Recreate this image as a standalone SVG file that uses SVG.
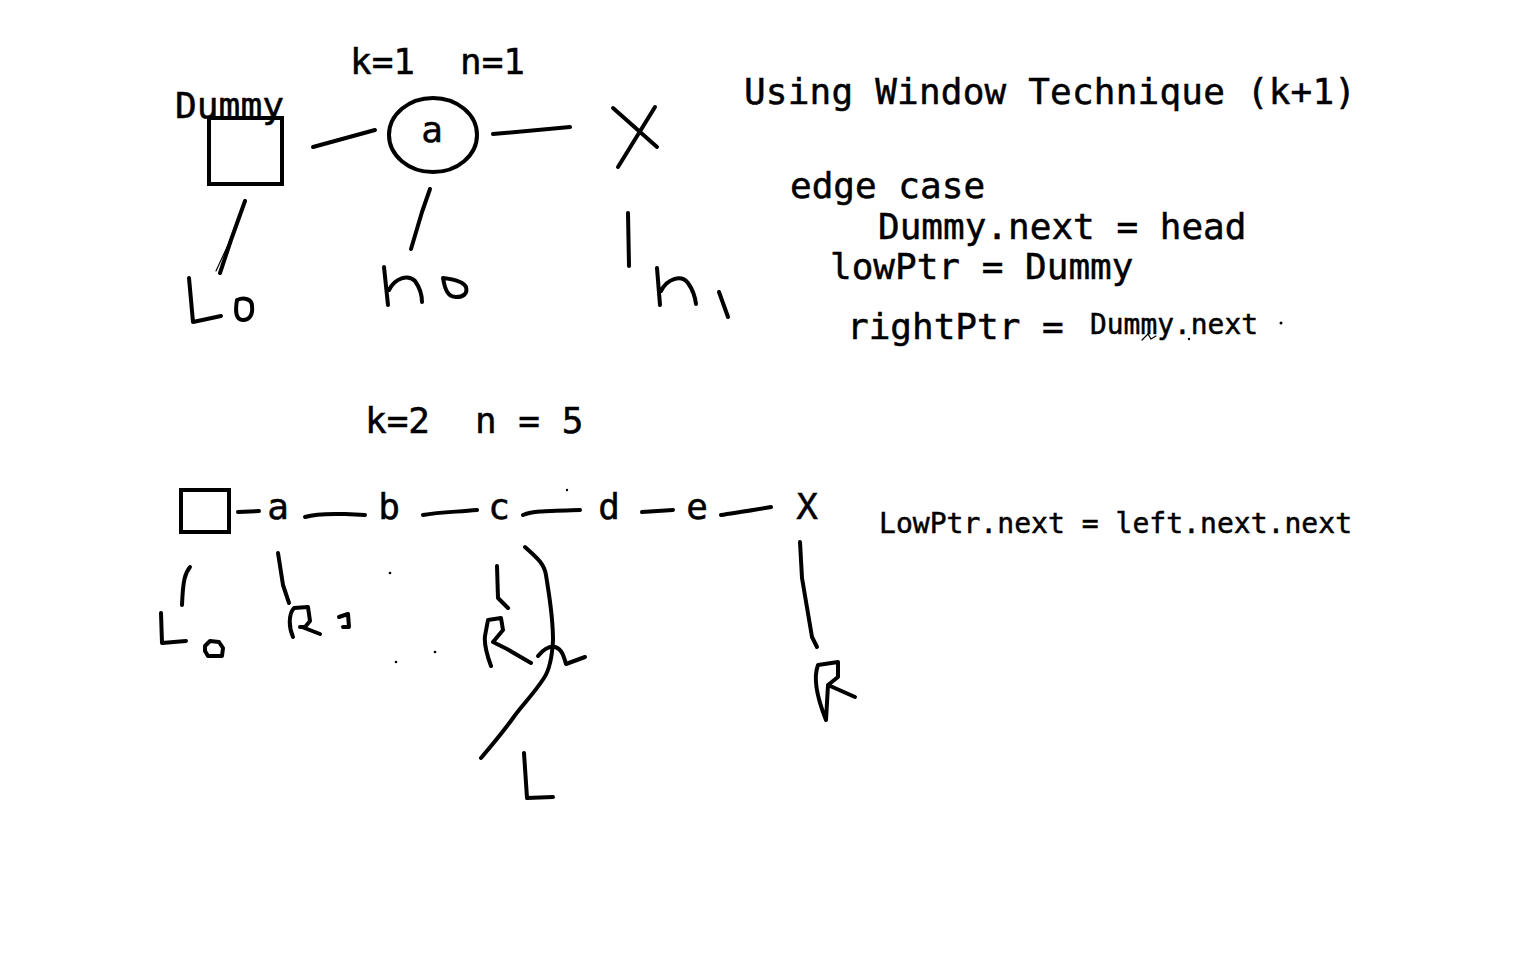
<svg xmlns="http://www.w3.org/2000/svg" width="1536" height="960" viewBox="0 0 1536 960">
<style>
text{stroke:#000;stroke-width:0.5}
.ink{fill:none;stroke:#000;stroke-width:4;stroke-linecap:round;stroke-linejoin:round}
.thin{fill:none;stroke:#000;stroke-width:1.2;stroke-linecap:round}
.mono{font-family:"DejaVu Sans Mono","Liberation Mono",monospace;fill:#000}
.lbl{font-family:"DejaVu Sans Mono","Liberation Mono",monospace;fill:#000;font-size:36px}
.node{font-family:"DejaVu Sans Mono","Liberation Mono",monospace;fill:#000;font-size:36px;text-anchor:middle}
</style>
<rect width="1536" height="960" fill="#fff"/>

<!-- Top example -->
<g id="top-labels">
<text class="lbl" x="350" y="74">k=1</text>
<text class="lbl" x="460" y="74">n=1</text>
</g>
<g id="dummy-node">
<text class="lbl" x="175" y="118" textLength="109" lengthAdjust="spacingAndGlyphs">Dummy</text>
<rect x="209" y="118" width="73" height="66" fill="none" stroke="#000" stroke-width="4"/>
</g>
<g id="node-a">
<ellipse cx="433" cy="135" rx="44" ry="37" fill="none" stroke="#000" stroke-width="4"/>
<text class="node" x="432" y="142" font-size="32">a</text>
</g>
<g id="null-x">
<path class="ink" d="M613,108 L657,147 M655,107 L618,167"/>
</g>
<g id="top-connectors">
<path class="ink" d="M313,147 L375,130"/>
<path class="ink" d="M493,134 L570,127"/>
</g>
<g id="top-pointers">
<path class="ink" d="M245,201 L231,240 L220,273"/>
<path class="thin" d="M240,215 L228,245 L216,271"/>
<path class="ink" d="M189,278 L193,322 L221,316"/>
<path class="ink" d="M237,300 C244,297 252,299 252,306 C253,314 250,320 243,320 C236,320 235,312 237,300 Z"/>
<path class="ink" d="M430,189 L422,212 L411,249"/>
<path class="ink" d="M384,267 L388,305 M389,290 C395,278 408,274 415,281 C420,288 422,294 422,302"/>
<path class="ink" d="M443,278 C452,279 463,281 466,287 C468,294 463,297 456,297 C448,297 445,290 443,278 Z"/>
<path class="ink" d="M628,213 L629,266"/>
<path class="ink" d="M657,268 L660,305 M661,291 C667,279 681,274 688,283 C693,290 695,296 696,304"/>
<path class="ink" d="M719,292 L728,317"/>
</g>

<!-- Notes -->
<g id="notes">
<text class="mono" x="744" y="104" font-size="36" textLength="612" lengthAdjust="spacing">Using Window Technique (k+1)</text>
<text class="mono" x="790" y="198" font-size="36">edge case</text>
<text class="mono" x="878" y="239" font-size="36">Dummy.next = head</text>
<text class="mono" x="830" y="279" font-size="36">lowPtr = Dummy</text>
<text class="mono" x="847" y="339" font-size="36">rightPtr =</text>
<text class="mono" x="1090" y="334" font-size="28" textLength="168" lengthAdjust="spacingAndGlyphs">Dummy.next</text>
<circle cx="1281" cy="323" r="1.5" fill="#000"/>
<path class="thin" d="M1142,340 L1148,334 L1151,339 L1156,336" stroke-width="2"/>
<circle cx="1189" cy="339" r="1.2" fill="#000"/>
<text class="mono" x="879" y="533" font-size="28" textLength="473" lengthAdjust="spacing">LowPtr.next = left.next.next</text>
</g>

<!-- Bottom example -->
<g id="bottom-labels">
<text class="lbl" x="365" y="433">k=2</text>
<text class="lbl" x="475" y="433">n = 5</text>
</g>
<g id="b-dummy"><rect x="181" y="490" width="48" height="42" fill="none" stroke="#000" stroke-width="4"/></g>
<g id="b-a"><text class="node" x="278" y="519">a</text></g>
<g id="b-b"><text class="node" x="389" y="519">b</text></g>
<g id="b-c"><text class="node" x="499" y="519">c</text></g>
<g id="b-d"><text class="node" x="609" y="519">d</text></g>
<g id="b-e"><text class="node" x="697" y="519">e</text></g>
<g id="b-x"><text class="node" x="807" y="519">X</text></g>
<g id="bottom-connectors">
<path class="ink" d="M238,512 L259,511"/>
<path class="ink" d="M305,517 C318,513 332,514 345,514 L365,515"/>
<path class="ink" d="M423,515 C440,512 456,512 477,510"/>
<path class="ink" d="M523,515 C533,511 545,511 580,510"/>
<path class="ink" d="M642,512 L673,510"/>
<path class="ink" d="M721,515 C733,513 748,511 771,507"/>
</g>
<g id="bottom-pointers">
<path class="ink" d="M190,567 C185,573 183,580 182,605"/>
<path class="ink" d="M161,613 L162,643 L186,641"/>
<path class="ink" d="M205,646 L210,641 L219,642 L223,648 L222,656 L208,656 L205,651 Z"/>
<path class="ink" d="M278,553 L283,585 L289,603"/>
<path class="ink" d="M293,637 C289,628 288,615 294,608 L308,607 L310,621 L305,627 L300,627 M302,627 L320,634"/>
<path class="ink" d="M339,617 L348,614 L349,627 L343,627"/>
<circle cx="390" cy="573" r="1.3" fill="#000"/>
<circle cx="396" cy="662" r="1.3" fill="#000"/>
<circle cx="435" cy="652" r="1.3" fill="#000"/>
<circle cx="567" cy="490" r="1.2" fill="#000"/>
<path class="ink" d="M497,566 L498,598 L508,608"/>
<path class="ink" d="M491,666 C487,655 484,644 485,636 L488,620 L501,618 L503,630 L493,642 L507,649 L531,663"/>
<path class="ink" d="M525,547 C536,557 544,563 546,575 C549,595 553,615 553,640 C552,660 548,672 544,678 C533,695 522,705 513,718 C503,732 492,745 481,758"/>
<path class="ink" d="M538,656 C543,650 549,646 555,647 C562,649 564,657 566,664 L585,657"/>
<path class="ink" d="M524,753 L527,798 L553,797"/>
<path class="ink" d="M800,542 L802,578 L812,637 L817,647"/>
<path class="ink" d="M826,720 C818,700 813,678 818,665 L838,662 L838,677 L828,685 L855,697 M828,685 L826,720"/>
</g>
</svg>
